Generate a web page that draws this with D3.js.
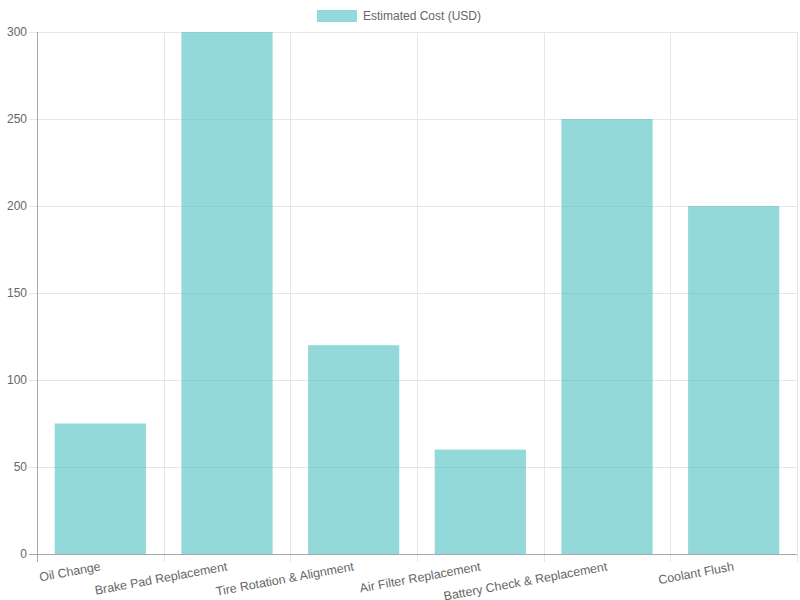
<!DOCTYPE html>
<html><head><meta charset="utf-8">
<script src="https://cdn.jsdelivr.net/npm/d3@7"></script>
<style>body{margin:0;background:#fff;} text{font-family:"Liberation Sans",Arial,Helvetica,sans-serif;}</style>
</head><body><svg id="c" width="800" height="600"></svg>
<script>
const categories = ["Oil Change","Brake Pad Replacement","Tire Rotation & Alignment","Air Filter Replacement","Battery Check & Replacement","Coolant Flush"];
const values = [75, 300, 120, 60, 250, 200];
const yTicks = [0, 50, 100, 150, 200, 250, 300];
const seriesName = "Estimated Cost (USD)";

const svg = d3.select("#c");
const L = 37, R = 797, T = 32, B = 554;
const x = d3.scaleBand().domain(categories).range([L, R]).paddingInner(0).paddingOuter(0);
const y = d3.scaleLinear().domain([0, 300]).range([B, T]);
const grid = "#e6e6e6", axisCol = "#a8a8a8", txt = "#666";

// horizontal grid
svg.append("g").selectAll("line").data(yTicks.filter(d=>d>0)).join("line")
  .attr("x1", L).attr("x2", R).attr("y1", d=>y(d)+0.5).attr("y2", d=>y(d)+0.5)
  .attr("stroke", grid);
// vertical grid at category boundaries
const bounds = categories.map(c=>x(c)).concat([R]);
svg.append("g").selectAll("line").data(bounds.slice(1)).join("line")
  .attr("x1", d=>Math.round(d)+0.5).attr("x2", d=>Math.round(d)+0.5).attr("y1", T).attr("y2", B+8)
  .attr("stroke", grid);

// bars
const bw = x.bandwidth()*0.72;
svg.append("g").selectAll("rect").data(values).join("rect")
  .attr("x", (d,i)=>x(categories[i]) + x.bandwidth()/2 - bw/2)
  .attr("width", bw)
  .attr("y", d=>y(d)).attr("height", d=>B - y(d))
  .attr("fill", "rgba(75,192,192,0.6)");

// y axis
svg.append("line").attr("x1", L+0.5).attr("x2", L+0.5).attr("y1", T).attr("y2", B+8).attr("stroke", axisCol);
svg.append("g").selectAll("line").data(yTicks).join("line")
  .attr("x1", L-8).attr("x2", L).attr("y1", d=>y(d)+0.5).attr("y2", d=>y(d)+0.5).attr("stroke", d=>d===0?axisCol:grid);
svg.append("g").selectAll("text").data(yTicks).join("text")
  .attr("x", L-10).attr("y", d=>y(d)).attr("dy","0.35em").attr("text-anchor","end")
  .attr("font-size", 12).attr("fill", txt).text(d=>d);

// x axis
svg.append("line").attr("x1", L-8).attr("x2", R).attr("y1", B+0.5).attr("y2", B+0.5).attr("stroke", axisCol);
svg.append("g").selectAll("text").data(categories).join("text")
  .attr("transform", d=>`translate(${x(d)+x.bandwidth()/2},${B+12}) rotate(-10.5)`)
  .attr("text-anchor","end").attr("dy","0.35em")
  .attr("font-size", 12.4).attr("fill", txt).text(d=>d);

// legend
svg.append("rect").attr("x", 317).attr("y", 10).attr("width", 40).attr("height", 12)
  .attr("fill", "rgba(75,192,192,0.6)");
svg.append("text").attr("x", 363).attr("y", 16).attr("dy","0.35em")
  .attr("font-size", 12).attr("fill", txt).text(seriesName);
</script></body></html>
